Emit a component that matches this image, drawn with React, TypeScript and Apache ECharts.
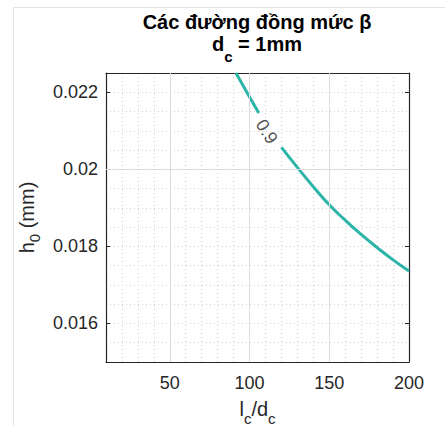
import React, { useEffect, useRef } from "react";
import * as echarts from "echarts";

// Data
const xRange = [10, 200];
const yRange = [0.015, 0.0225];
const xTicks = [50, 100, 150, 200];
const yTicks = [0.016, 0.018, 0.02, 0.022];
// contour beta = 0.9, split where the inline label sits
const contourPart1: [number, number][] = [
  [91.5, 0.0225],
  [100, 0.02188],
  [105.8, 0.02146],
];
const contourPart2: [number, number][] = [
  [120, 0.02057],
  [130, 0.02005],
  [140, 0.01955],
  [150, 0.01908],
  [160, 0.01868],
  [170, 0.01831],
  [180, 0.01797],
  [190, 0.01765],
  [200, 0.01736],
];
const contourLabelText = "0.9";
const contourLabelPos: [number, number] = [110.8, 0.02098];

const FONT = "'Liberation Sans', Arial, Helvetica, sans-serif";
const DARK = "#262626";
const TEAL = "#2bb5a8";

export default function App() {
  const ref = useRef<HTMLDivElement>(null);
  useEffect(() => {
    if (!ref.current) return;
    const chart = echarts.init(ref.current, undefined, { renderer: "svg" });
    const mainStyle = (size: number, bold = false) => ({
      fontSize: size,
      fontFamily: FONT,
      color: bold ? "#000" : DARK,
      fontWeight: bold ? "bold" : "normal",
      lineHeight: size,
      verticalAlign: "top",
    });
    const subStyle = (size: number, lh: number, bold = false) => ({
      fontSize: size,
      fontFamily: FONT,
      color: bold ? "#000" : DARK,
      fontWeight: bold ? "bold" : "normal",
      lineHeight: lh,
      verticalAlign: "bottom",
    });
    const hidden = {
      axisLine: { show: false },
      axisTick: { show: false },
      axisLabel: { show: false },
    };
    const boxAxis = (position: string, ticks: number[], range: number[]) => ({
      type: "value",
      position,
      min: range[0],
      max: range[1],
      axisLine: { show: true, onZero: false, lineStyle: { color: DARK, width: 1.2 } },
      axisTick: { show: true, inside: true, length: 4, customValues: ticks, lineStyle: { color: DARK } },
      axisLabel: { show: false },
      splitLine: { show: false },
    });
    const option: any = {
      animation: false,
      backgroundColor: "#fff",
      title: [
        {
          text: "Các đường đồng mức β",
          left: 257,
          top: 11.5,
          padding: 0,
          textAlign: "center",
          textStyle: { fontSize: 20, fontWeight: "bold", fontFamily: FONT, color: "#000", lineHeight: 20 },
        },
        {
          text: "{m|d}{s|c}{m| = 1mm}",
          left: 257,
          top: 34,
          padding: 0,
          textAlign: "center",
          textStyle: {
            fontSize: 20,
            fontFamily: FONT,
            rich: { m: mainStyle(20, true), s: subStyle(15, 30, true) },
          },
        },
      ],
      grid: { left: 106, right: 36, top: 73, bottom: 64, containLabel: false, outerBoundsMode: "none" },
      xAxis: [
        {
          // minor grid
          type: "value",
          min: xRange[0],
          max: xRange[1],
          interval: 10,
          ...hidden,
          splitLine: { show: true, lineStyle: { color: "#cfcfcf", type: [1, 3], width: 1 } },
        },
        {
          type: "value",
          position: "bottom",
          min: xRange[0],
          max: xRange[1],
          axisLine: { show: true, onZero: false, lineStyle: { color: DARK, width: 1.2 } },
          axisTick: { show: true, inside: true, length: 4, customValues: xTicks, lineStyle: { color: DARK } },
          axisLabel: {
            show: true,
            customValues: xTicks,
            fontSize: 18,
            fontFamily: FONT,
            color: DARK,
            margin: 12,
          },
          splitLine: { show: false },
          name: "{m|l}{s|c}{m|/d}{s|c}",
          nameLocation: "middle",
          nameGap: 37,
          nameTextStyle: {
            fontSize: 20,
            fontFamily: FONT,
            color: DARK,
            rich: { m: mainStyle(20), s: subStyle(15, 27) },
          },
        },
        boxAxis("top", xTicks, xRange),
      ],
      yAxis: [
        {
          type: "value",
          min: yRange[0],
          max: yRange[1],
          interval: 0.0005,
          ...hidden,
          splitLine: { show: true, lineStyle: { color: "#cfcfcf", type: [1, 3], width: 1 } },
        },
        {
          type: "value",
          position: "left",
          min: yRange[0],
          max: yRange[1],
          axisLine: { show: true, onZero: false, lineStyle: { color: DARK, width: 1.2 } },
          axisTick: { show: true, inside: true, length: 4, customValues: yTicks, lineStyle: { color: DARK } },
          axisLabel: {
            show: true,
            customValues: yTicks,
            fontSize: 18,
            fontFamily: FONT,
            color: DARK,
            margin: 8,
          },
          splitLine: { show: false },
          name: "{m|h}{s|0}{m| (mm)}",
          nameLocation: "middle",
          nameGap: 57,
          nameTextStyle: {
            fontSize: 20,
            fontFamily: FONT,
            color: DARK,
            rich: { m: mainStyle(20), s: subStyle(15, 25) },
          },
        },
        boxAxis("right", yTicks, yRange),
      ],
      series: [
        {
          type: "line",
          xAxisIndex: 1,
          yAxisIndex: 1,
          data: [],
          silent: true,
          markLine: {
            silent: true,
            symbol: "none",
            label: { show: false },
            lineStyle: { color: "#dcdcdc", type: "solid", width: 1 },
            data: [
              ...xTicks.filter((v) => v < xRange[1]).map((v) => ({ xAxis: v })),
              ...yTicks.map((v) => ({ yAxis: v })),
            ],
          },
        },
        {
          type: "line",
          xAxisIndex: 1,
          yAxisIndex: 1,
          data: contourPart1,
          smooth: true,
          showSymbol: false,
          clip: true,
          lineStyle: { color: TEAL, width: 3 },
          itemStyle: { color: TEAL },
        },
        {
          type: "line",
          xAxisIndex: 1,
          yAxisIndex: 1,
          data: contourPart2,
          smooth: true,
          showSymbol: false,
          clip: true,
          lineStyle: { color: TEAL, width: 3 },
          itemStyle: { color: TEAL },
        },
        {
          type: "scatter",
          xAxisIndex: 1,
          yAxisIndex: 1,
          data: [contourLabelPos],
          symbolSize: 1,
          itemStyle: { color: "rgba(0,0,0,0)" },
          label: {
            show: true,
            position: "inside",
            formatter: contourLabelText,
            rotate: -57,
            fontSize: 18,
            fontFamily: FONT,
            color: DARK,
          },
        },
      ],
      graphic: [
        { type: "line", shape: { x1: 13.5, y1: 7, x2: 13.5, y2: 426 }, style: { stroke: "#e4e4e4", lineWidth: 1 } },
        { type: "line", shape: { x1: 13.5, y1: 7.5, x2: 445, y2: 7.5 }, style: { stroke: "#e4e4e4", lineWidth: 1 } },
      ],
    };
    chart.setOption(option);
    return () => chart.dispose();
  }, []);
  return (
    <div
      ref={ref}
      style={{ position: "fixed", left: 0, top: 0, width: 445, height: 426 }}
    />
  );
}
